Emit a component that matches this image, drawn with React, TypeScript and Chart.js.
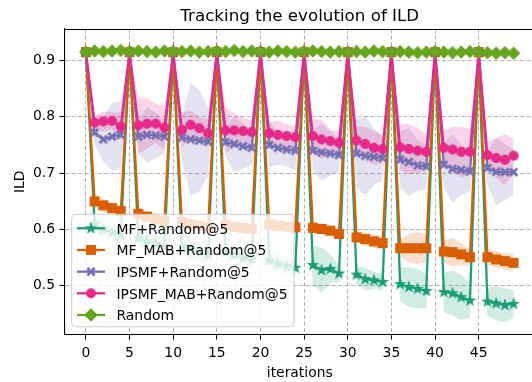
import React, { useEffect, useRef } from 'react';
import { Chart, registerables } from 'chart.js';
Chart.register(...registerables);

const FONT = "'DejaVu Sans', sans-serif";

const iterations = [
  0, 1, 2, 3, 4, 5, 6, 7, 8, 9, 10, 11, 12, 13, 14, 15, 16, 17, 18, 19, 20, 21, 22, 23, 24,
  25, 26, 27, 28, 29, 30, 31, 32, 33, 34, 35, 36, 37, 38, 39, 40, 41, 42, 43, 44, 45, 46, 47, 48, 49,
];
const xTicks = [0, 5, 10, 15, 20, 25, 30, 35, 40, 45];
const yTicks = [0.5, 0.6, 0.7, 0.8, 0.9];

const seriesLabels = ['MF+Random@5', 'MF_MAB+Random@5', 'IPSMF+Random@5', 'IPSMF_MAB+Random@5', 'Random'];
const seriesColors = ['#1b9e77', '#d95f02', '#7570b3', '#e7298a', '#66a61e'];
const seriesMarkers = ['star', 'square', 'x', 'circle', 'diamond'];

const mfRandom = [
  0.915, 0.610, 0.600, 0.595, 0.590,
  0.915, 0.585, 0.580, 0.575, 0.570,
  0.915, 0.570, 0.565, 0.560, 0.555,
  0.915, 0.560, 0.555, 0.550, 0.548,
  0.915, 0.545, 0.540, 0.535, 0.532,
  0.915, 0.537, 0.528, 0.530, 0.522,
  0.915, 0.520, 0.512, 0.510, 0.507,
  0.915, 0.503, 0.498, 0.495, 0.491,
  0.915, 0.489, 0.487, 0.480, 0.474,
  0.915, 0.472, 0.469, 0.466, 0.468,
];
const mfMab = [
  0.915, 0.650, 0.643, 0.638, 0.633,
  0.915, 0.628, 0.623, 0.618, 0.615,
  0.915, 0.613, 0.609, 0.606, 0.603,
  0.915, 0.608, 0.605, 0.603, 0.601,
  0.915, 0.609, 0.607, 0.605, 0.604,
  0.915, 0.603, 0.601, 0.598, 0.592,
  0.915, 0.586, 0.583, 0.579, 0.576,
  0.915, 0.567, 0.567, 0.567, 0.567,
  0.915, 0.561, 0.560, 0.556, 0.551,
  0.915, 0.551, 0.547, 0.544, 0.541,
];
const ipsmf = [
  0.915, 0.772, 0.760, 0.765, 0.768,
  0.915, 0.765, 0.768, 0.767, 0.765,
  0.915, 0.763, 0.760, 0.758, 0.756,
  0.915, 0.755, 0.752, 0.748, 0.745,
  0.915, 0.750, 0.745, 0.742, 0.740,
  0.915, 0.740, 0.737, 0.735, 0.732,
  0.915, 0.735, 0.731, 0.729, 0.727,
  0.915, 0.724, 0.720, 0.714, 0.712,
  0.915, 0.715, 0.708, 0.706, 0.703,
  0.915, 0.709, 0.703, 0.702, 0.702,
];
const ipsmfMab = [
  0.915, 0.790, 0.792, 0.793, 0.783,
  0.915, 0.785, 0.788, 0.788, 0.781,
  0.915, 0.777, 0.786, 0.780, 0.771,
  0.915, 0.776, 0.776, 0.775, 0.773,
  0.915, 0.771, 0.768, 0.766, 0.764,
  0.915, 0.766, 0.760, 0.757, 0.754,
  0.915, 0.758, 0.752, 0.745, 0.743,
  0.915, 0.746, 0.743, 0.740, 0.738,
  0.915, 0.745, 0.742, 0.738, 0.738,
  0.915, 0.732, 0.727, 0.724, 0.731,
];
const randomIld = [
  0.915, 0.917, 0.916, 0.917, 0.918, 0.916, 0.917, 0.916, 0.915, 0.917,
  0.916, 0.916, 0.917, 0.915, 0.916, 0.917, 0.916, 0.918, 0.916, 0.917,
  0.916, 0.915, 0.917, 0.916, 0.915, 0.916, 0.917, 0.916, 0.915, 0.916,
  0.915, 0.916, 0.915, 0.917, 0.916, 0.915, 0.916, 0.915, 0.914, 0.915,
  0.916, 0.915, 0.914, 0.915, 0.916, 0.915, 0.914, 0.913, 0.914, 0.913,
];

// spread (std) of each series
const mfRandomStd = [
  0, 0.015, 0.015, 0.015, 0.015,
  0, 0.015, 0.02, 0.015, 0.015,
  0, 0.015, 0.02, 0.015, 0.02,
  0, 0.015, 0.02, 0.02, 0.02,
  0, 0.015, 0.015, 0.015, 0.015,
  0, 0.035, 0.04, 0.025, 0.015,
  0, 0.015, 0.02, 0.015, 0.015,
  0, 0.03, 0.035, 0.035, 0.03,
  0, 0.035, 0.04, 0.04, 0.03,
  0, 0.025, 0.03, 0.03, 0.025,
];
const mfMabStd = [
  0, 0.012, 0.012, 0.01, 0.01,
  0, 0.01, 0.01, 0.01, 0.01,
  0, 0.01, 0.01, 0.01, 0.01,
  0, 0.01, 0.01, 0.01, 0.01,
  0, 0.01, 0.01, 0.01, 0.012,
  0, 0.012, 0.01, 0.01, 0.01,
  0, 0.01, 0.012, 0.012, 0.012,
  0, 0.015, 0.025, 0.028, 0.025,
  0, 0.02, 0.025, 0.02, 0.015,
  0, 0.015, 0.015, 0.015, 0.015,
];
const ipsmfStd = [
  0, 0.02, 0.04, 0.06, 0.06,
  0, 0.03, 0.05, 0.04, 0.03,
  0, 0.04, 0.1, 0.09, 0.06,
  0, 0.025, 0.05, 0.04, 0.03,
  0, 0.04, 0.03, 0.03, 0.035,
  0, 0.035, 0.05, 0.04, 0.03,
  0, 0.06, 0.07, 0.05, 0.04,
  0, 0.05, 0.06, 0.045, 0.04,
  0, 0.04, 0.06, 0.045, 0.035,
  0, 0.03, 0.06, 0.05, 0.04,
];
const ipsmfMabStd = [
  0, 0.012, 0.018, 0.015, 0.025,
  0, 0.05, 0.045, 0.035, 0.04,
  0, 0.03, 0.025, 0.02, 0.025,
  0, 0.04, 0.03, 0.025, 0.02,
  0, 0.02, 0.025, 0.02, 0.02,
  0, 0.03, 0.035, 0.02, 0.02,
  0, 0.025, 0.03, 0.03, 0.025,
  0, 0.04, 0.045, 0.04, 0.03,
  0, 0.03, 0.04, 0.045, 0.04,
  0, 0.025, 0.035, 0.045, 0.03,
];

const seriesValues = [mfRandom, mfMab, ipsmf, ipsmfMab, randomIld];
const seriesStds = [mfRandomStd, mfMabStd, ipsmfStd, ipsmfMabStd, null];

function makeMarker(kind: string, color: string): HTMLCanvasElement {
  const s = 16;
  const c = document.createElement('canvas');
  c.width = s;
  c.height = s;
  const g = c.getContext('2d')!;
  g.translate(s / 2, s / 2);
  g.fillStyle = color;
  g.strokeStyle = color;
  g.lineWidth = 1.2;
  g.lineJoin = 'miter';
  if (kind === 'x') {
    g.lineWidth = 2.8;
    g.beginPath();
    g.moveTo(-3.7, -3.7);
    g.lineTo(3.7, 3.7);
    g.moveTo(-3.7, 3.7);
    g.lineTo(3.7, -3.7);
    g.stroke();
    return c;
  }
  g.beginPath();
  if (kind === 'circle') {
    g.arc(0, 0, 4.5, 0, Math.PI * 2);
  } else if (kind === 'square') {
    g.rect(-4.3, -4.3, 8.6, 8.6);
  } else if (kind === 'diamond') {
    g.moveTo(0, -5.9);
    g.lineTo(5.9, 0);
    g.lineTo(0, 5.9);
    g.lineTo(-5.9, 0);
    g.closePath();
  } else if (kind === 'star') {
    for (let k = 0; k < 10; k++) {
      const r = k % 2 === 0 ? 4.9 : 2.0;
      const a = -Math.PI / 2 + (k * Math.PI) / 5;
      const px = Math.cos(a) * r;
      const py = Math.sin(a) * r;
      if (k === 0) g.moveTo(px, py);
      else g.lineTo(px, py);
    }
    g.closePath();
  }
  g.fill();
  g.stroke();
  return c;
}

function hexA(hex: string, a: number) {
  const n = parseInt(hex.slice(1), 16);
  return `rgba(${(n >> 16) & 255},${(n >> 8) & 255},${n & 255},${a})`;
}

export default function App() {
  const ref = useRef<HTMLCanvasElement | null>(null);

  useEffect(() => {
    const canvas = ref.current!;
    const markers = seriesMarkers.map((m, i) => makeMarker(m, seriesColors[i]));

    const datasets: any[] = [];
    seriesValues.forEach((vals, i) => {
      const sd = seriesStds[i];
      if (!sd) return;
      const up = iterations.map((x, j) => ({ x, y: vals[j] + sd[j] }));
      const lo = iterations.map((x, j) => ({ x, y: vals[j] - sd[j] }));
      datasets.push({
        data: up,
        borderWidth: 0,
        pointRadius: 0,
        fill: '+1',
        backgroundColor: hexA(seriesColors[i], 0.2),
        order: 20 - i,
        tension: 0,
      });
      datasets.push({
        data: lo,
        borderWidth: 0,
        pointRadius: 0,
        fill: false,
        order: 20 - i,
      });
    });
    seriesValues.forEach((vals, i) => {
      datasets.push({
        label: seriesLabels[i],
        data: iterations.map((x, j) => ({ x, y: vals[j] })),
        borderColor: seriesColors[i],
        backgroundColor: seriesColors[i],
        borderWidth: 2.3,
        pointStyle: markers[i],
        pointRadius: 5,
        pointBorderWidth: 0,
        fill: false,
        tension: 0,
        order: 5 - i,
      });
    });

    const CA = { left: 64.5, right: 535, top: 29, bottom: 334.6 };

    const decorPlugin = {
      id: 'decor',
      afterDraw(chart: any) {
        const ctx = chart.ctx as CanvasRenderingContext2D;
        const a = chart.chartArea;
        ctx.save();
        ctx.strokeStyle = '#000';
        ctx.lineWidth = 1.1;
        ctx.beginPath();
        ctx.moveTo(a.left, a.top + 0.5);
        ctx.lineTo(a.right, a.top + 0.5);
        ctx.stroke();
        ctx.fillStyle = '#000';
        ctx.textAlign = 'center';
        ctx.textBaseline = 'alphabetic';
        ctx.font = `16.7px ${FONT}`;
        ctx.fillText('Tracking the evolution of ILD', (a.left + a.right) / 2, 20.7);
        ctx.font = `13.9px ${FONT}`;
        ctx.fillText('iterations', (a.left + a.right) / 2, 377);
        ctx.save();
        ctx.translate(23.7, (a.top + a.bottom) / 2);
        ctx.rotate(-Math.PI / 2);
        ctx.fillText('ILD', 0, 0);
        ctx.restore();

        const x0 = 71.7, y0 = 214.3, w = 222.3, h = 112.5, r = 4;
        ctx.beginPath();
        ctx.moveTo(x0 + r, y0);
        ctx.lineTo(x0 + w - r, y0);
        ctx.arcTo(x0 + w, y0, x0 + w, y0 + r, r);
        ctx.lineTo(x0 + w, y0 + h - r);
        ctx.arcTo(x0 + w, y0 + h, x0 + w - r, y0 + h, r);
        ctx.lineTo(x0 + r, y0 + h);
        ctx.arcTo(x0, y0 + h, x0, y0 + h - r, r);
        ctx.lineTo(x0, y0 + r);
        ctx.arcTo(x0, y0, x0 + r, y0, r);
        ctx.closePath();
        ctx.fillStyle = 'rgba(255,255,255,0.8)';
        ctx.fill();
        ctx.strokeStyle = '#cccccc';
        ctx.lineWidth = 1;
        ctx.stroke();
        seriesLabels.forEach((lab, i) => {
          const y = 228.3 + i * 21.67;
          ctx.strokeStyle = seriesColors[i];
          ctx.lineWidth = 2.3;
          ctx.beginPath();
          ctx.moveTo(77, y);
          ctx.lineTo(105, y);
          ctx.stroke();
          ctx.drawImage(markers[i], 91 - 8, y - 8);
          ctx.fillStyle = '#000';
          ctx.textAlign = 'left';
          ctx.font = `13.9px ${FONT}`;
          ctx.fillText(lab, 116.5, y + 5.2);
        });
        ctx.restore();
      },
    };

    const chart = new Chart(canvas, {
      type: 'line',
      data: { datasets },
      plugins: [decorPlugin],
      options: {
        animation: false,
        responsive: false,
        devicePixelRatio: 1,
        layout: { padding: { left: 0, top: CA.top, right: 540 - CA.right, bottom: 0 } },
        plugins: {
          legend: { display: false },
          tooltip: { enabled: false },
          title: { display: false },
        },
        scales: {
          x: {
            type: 'linear',
            min: -2.45,
            max: 51.45,
            afterFit: (s: any) => { s.height = 382 - CA.bottom; },
            afterBuildTicks: (s: any) => { s.ticks = xTicks.map((v) => ({ value: v })); },
            grid: {
              color: '#b0b0b0',
              lineWidth: 1,
              drawTicks: true,
              tickLength: 5,
              tickColor: '#000',
              tickBorderDash: [],
              tickWidth: 1.1,
            },
            border: { display: true, color: '#000', width: 1.1, dash: [4, 2.5] },
            ticks: {
              color: '#000',
              font: { family: FONT, size: 13.9 },
              padding: 5,
              maxRotation: 0,
              autoSkip: false,
              callback: (v: any) => String(v),
            },
          },
          y: {
            type: 'linear',
            min: 0.4135,
            max: 0.956,
            afterFit: (s: any) => { s.width = CA.left; },
            afterBuildTicks: (s: any) => { s.ticks = yTicks.map((v) => ({ value: v })); },
            grid: {
              color: '#b0b0b0',
              lineWidth: 1,
              drawTicks: true,
              tickLength: 5,
              tickColor: '#000',
              tickBorderDash: [],
              tickWidth: 1.1,
            },
            border: { display: true, color: '#000', width: 1.1, dash: [4, 2.5] },
            ticks: {
              color: '#000',
              font: { family: FONT, size: 13.9 },
              padding: 4.5,
              autoSkip: false,
              callback: (v: any) => Number(v).toFixed(1),
            },
          },
        },
      } as any,
    });
    return () => chart.destroy();
  }, []);

  return (
    <div style={{ position: 'fixed', left: 0, top: 0, width: 532, height: 382, overflow: 'hidden', background: '#fff' }}>
      <canvas ref={ref} width={540} height={382} style={{ display: 'block', width: 540, height: 382 }} />
    </div>
  );
}
